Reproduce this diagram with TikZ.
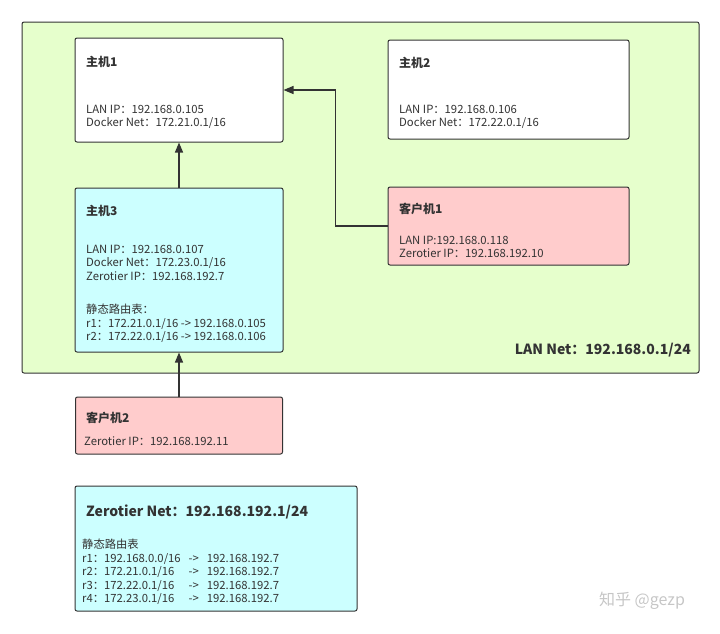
\documentclass[tikz,border=0pt]{standalone}
\usepackage{fontspec}
\setmainfont{Noto Sans CJK SC}
\usetikzlibrary{arrows.meta,calc}
\definecolor{lanfill}{HTML}{E6FFCC}
\definecolor{hostcyan}{HTML}{CCFFFF}
\definecolor{clientpink}{HTML}{FFCCCC}
\definecolor{edge}{HTML}{333333}
\definecolor{txt}{HTML}{333333}

\begin{document}
\begin{tikzpicture}[x=1pt, y=-1pt,
  box/.style = {draw=edge, line width=1pt, rounded corners=2pt, inner sep=0pt},
  title/.style = {anchor=north west, inner sep=0pt, text=txt, font=\fontsize{12}{14}\selectfont\bfseries},
  body/.style = {anchor=north west, inner sep=0pt, text=txt, align=left, font=\fontsize{11.3}{13.5}\selectfont},
  link/.style = {draw=edge, line width=1.3pt, -{Triangle[length=10pt,width=8pt]}}]
\useasboundingbox (0,0) rectangle (720,633);
% boxes
\node[box, fill=lanfill, minimum width=677pt, minimum height=351pt] (lan) at (360.5,197.5) {};
\node[box, fill=white, minimum width=208pt, minimum height=104pt] (h1) at (179,90) {};
\node[box, fill=white, minimum width=241pt, minimum height=99pt] (h2) at (508.5,89.5) {};
\node[box, fill=hostcyan, minimum width=208pt, minimum height=164pt] (h3) at (179,270) {};
\node[box, fill=clientpink, minimum width=241pt, minimum height=78pt] (c1) at (508.5,226) {};
\node[box, fill=clientpink, minimum width=207pt, minimum height=57pt] (c2) at (179,425.5) {};
\node[box, fill=hostcyan, minimum width=282pt, minimum height=125pt] (zt) at (216,548.5) {};
% texts
\node[title] (h1t) at (86,56) {主机1};
\node[body] (h1b) at (86,105) {LAN IP：192.168.0.105\\Docker Net：172.21.0.1/16};
\node[title] (h2t) at (399,57) {主机2};
\node[body] (h2b) at (399,105) {LAN IP：192.168.0.106\\Docker Net：172.22.0.1/16};
\node[title] (h3t) at (86,205) {主机3};
\node[body] (h3b) at (86,245) {LAN IP：192.168.0.107\\Docker Net：172.23.0.1/16\\Zerotier IP：192.168.192.7};
\node[body] (h3r) at (86,304) {静态路由表：\\r1：172.21.0.1/16 -> 192.168.0.105\\r2：172.22.0.1/16 -> 192.168.0.106};
\node[title] (c1t) at (399,203) {客户机1};
\node[body] (c1b) at (399,236) {LAN IP:192.168.0.118\\Zerotier IP：192.168.192.10};
\node[title] (c2t) at (86,412) {客户机2};
\node[body] (c2b) at (84,437) {Zerotier IP：192.168.192.11};
\node[title, font=\fontsize{14}{16}\selectfont\bfseries] (ztt) at (86,505) {Zerotier Net：192.168.192.1/24};
\node[body] (ztr) at (82,539) {\begin{tabular}{@{}l@{\hspace{8pt}}l@{\hspace{8pt}}l@{}}
\multicolumn{3}{@{}l@{}}{静态路由表}\\
r1：192.168.0.0/16 & -> & 192.168.192.7\\
r2：172.21.0.1/16 & -> & 192.168.192.7\\
r3：172.22.0.1/16 & -> & 192.168.192.7\\
r4：172.23.0.1/16 & -> & 192.168.192.7
\end{tabular}};
\node[anchor=east, inner sep=0pt, text=txt, font=\fontsize{14}{16}\selectfont\bfseries] (lant) at (691,350) {LAN Net：192.168.0.1/24};
\node[text=gray!45, font=\fontsize{16}{18}\selectfont] (mark) at (642,601) {知乎 @gezp};
% connectors
\draw[link] (h3) -- (h1);
\draw[link] (c2) -- (h3);
\draw[link] (c1.west) -- ++(-52,0) |- (h1.east);
\end{tikzpicture}
\end{document}
